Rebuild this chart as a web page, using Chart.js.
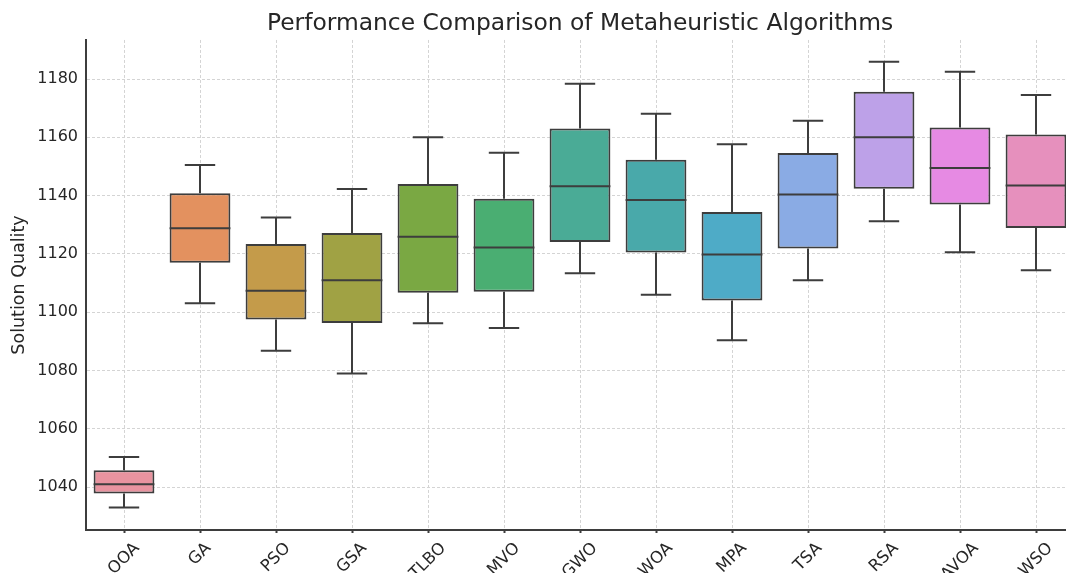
<!DOCTYPE html>
<html>
<head>
<meta charset="utf-8">
<script src="https://cdn.jsdelivr.net/npm/chart.js@4.4.1/dist/chart.umd.min.js"></script>
<style>
  html, body { margin: 0; padding: 0; background: #ffffff; overflow: hidden; }
  #wrap { width: 1074px; height: 573px; position: relative; }
</style>
</head>
<body>
<div id="wrap"><canvas id="c"></canvas></div>
<script>
const categories = ['OOA','GA','PSO','GSA','TLBO','MVO','GWO','WOA','MPA','TSA','RSA','AVOA','WSO'];
const whiskerLow  = [1033.0, 1103.1, 1086.8, 1079.0, 1096.2, 1094.6, 1113.4, 1106.0, 1090.4, 1111.0, 1131.2, 1120.6, 1114.4];
const q1          = [1037.8, 1117.0, 1097.5, 1096.3, 1106.7, 1107.0, 1124.1, 1120.5, 1104.0, 1121.9, 1142.4, 1137.0, 1128.9];
const median      = [1041.0, 1128.8, 1107.4, 1111.0, 1125.9, 1122.2, 1143.2, 1138.5, 1119.8, 1140.4, 1160.0, 1149.5, 1143.5];
const q3          = [1045.8, 1140.8, 1123.4, 1127.2, 1144.0, 1138.9, 1163.0, 1152.3, 1134.4, 1154.6, 1175.6, 1163.4, 1161.0];
const whiskerHigh = [1050.3, 1150.5, 1132.5, 1142.3, 1160.0, 1154.7, 1178.4, 1168.1, 1157.6, 1165.7, 1185.9, 1182.5, 1174.5];
const boxColors = ['#e8939f','#e3915f','#c49b4a','#a0a244','#7aa843','#4aae72','#4aab96','#49a9aa','#4eabc7','#8aabe4','#bda1e8','#e68ae3','#e690bd'];
const yTicks = [1040, 1060, 1080, 1100, 1120, 1140, 1160, 1180];
const yMin = 1025.3, yMax = 1193.4;

const FONT = 'DejaVu Sans';
const LINE = '#3d3d3d';

const boxPlugin = {
  id: 'boxWhiskers',
  afterDatasetsDraw(chart) {
    const meta = chart.getDatasetMeta(0);
    const ys = chart.scales.y;
    const ctx = chart.ctx;
    ctx.save();
    ctx.strokeStyle = LINE;
    ctx.lineWidth = 2;
    ctx.lineCap = 'butt';
    meta.data.forEach((el, i) => {
      const x = el.x, w = el.width;
      const pMed = ys.getPixelForValue(median[i]);
      const pQ1 = ys.getPixelForValue(q1[i]);
      const pQ3 = ys.getPixelForValue(q3[i]);
      const pLo = ys.getPixelForValue(whiskerLow[i]);
      const pHi = ys.getPixelForValue(whiskerHigh[i]);
      ctx.beginPath();
      ctx.moveTo(x - w / 2, pMed); ctx.lineTo(x + w / 2, pMed);
      ctx.moveTo(x, pQ3); ctx.lineTo(x, pHi);
      ctx.moveTo(x, pQ1); ctx.lineTo(x, pLo);
      ctx.moveTo(x - w / 4, pHi); ctx.lineTo(x + w / 4, pHi);
      ctx.moveTo(x - w / 4, pLo); ctx.lineTo(x + w / 4, pLo);
      ctx.stroke();
    });
    ctx.restore();
  }
};

const xLabelPlugin = {
  id: 'xLabels',
  afterDraw(chart) {
    const xs = chart.scales.x;
    const ctx = chart.ctx;
    const size = 16.5;
    ctx.save();
    ctx.font = size + 'px "' + FONT + '"';
    ctx.fillStyle = '#262626';
    ctx.textAlign = 'center';
    ctx.textBaseline = 'middle';
    categories.forEach((lab, i) => {
      const x = xs.getPixelForTick(i);
      const w = ctx.measureText(lab).width;
      const half = (w + size * 1.17) * 0.7071 / 2;
      const cy = xs.top + 9 + half;
      ctx.save();
      ctx.translate(x, cy);
      ctx.rotate(-Math.PI / 4);
      ctx.fillText(lab, 0, 0);
      ctx.restore();
    });
    ctx.restore();
  }
};

new Chart(document.getElementById('c'), {
  type: 'bar',
  data: {
    labels: categories,
    datasets: [{
      data: q1.map((v, i) => [v, q3[i]]),
      backgroundColor: boxColors,
      borderColor: LINE,
      borderWidth: 2,
      borderSkipped: false,
      barPercentage: 0.8,
      categoryPercentage: 1.0
    }]
  },
  options: {
    responsive: true,
    maintainAspectRatio: false,
    animation: false,
    layout: { padding: 0 },
    plugins: {
      legend: { display: false },
      tooltip: { enabled: false },
      title: {
        display: true,
        fullSize: false,
        text: 'Performance Comparison of Metaheuristic Algorithms',
        color: '#262626',
        font: { family: FONT, size: 23.4, weight: 'normal' },
        padding: { top: 10, bottom: 1.9 }
      }
    },
    scales: {
      x: {
        offset: true,
        grid: { display: true, offset: false, color: '#d4d4d4', lineWidth: 1, drawTicks: true, tickLength: 3, tickColor: LINE, tickWidth: 2, tickBorderDash: [] },
        border: { display: true, color: LINE, width: 2, dash: [3, 2] },
        ticks: { display: false },
        afterFit(scale) { scale.height = 43; }
      },
      y: {
        min: yMin,
        max: yMax,
        afterBuildTicks(scale) { scale.ticks = yTicks.map(v => ({ value: v })); },
        grid: { color: '#d4d4d4', lineWidth: 1, drawTicks: true, tickLength: 4, tickColor: 'rgba(0,0,0,0)', tickBorderDash: [] },
        border: { display: true, color: LINE, width: 2, dash: [3, 2] },
        ticks: { color: '#262626', font: { family: FONT, size: 16 }, padding: 4, callback: v => String(v) },
        title: {
          display: true,
          text: 'Solution Quality',
          color: '#262626',
          font: { family: FONT, size: 17.5, weight: 'normal' },
          padding: { top: 8.7, bottom: 0 }
        },
        afterFit(scale) { scale.width = 86; }
      }
    }
  },
  plugins: [boxPlugin, xLabelPlugin]
});
</script>
</body>
</html>
